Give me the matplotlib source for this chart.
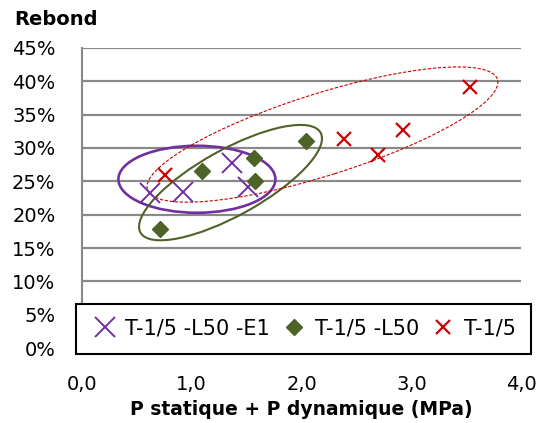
import matplotlib.pyplot as plt
from matplotlib.patches import Ellipse
from matplotlib.transforms import ScaledTranslation
from matplotlib.ticker import FuncFormatter, MultipleLocator

plt.rcParams['font.family'] = ['DejaVu Sans']

# T-1/5 -L50 -E1
x_e1 = [0.62, 0.92, 1.37, 1.51]
y_e1 = [23.2, 23.4, 27.8, 24.1]
# T-1/5 -L50
x_l50 = [0.71, 1.09, 1.57, 1.58, 2.04]
y_l50 = [17.8, 26.5, 28.5, 25.0, 31.0]
# T-1/5
x_t = [0.76, 2.39, 2.70, 2.92, 3.53]
y_t = [25.9, 31.3, 28.9, 32.7, 39.2]

labels = ['T-1/5 -L50 -E1', 'T-1/5 -L50', 'T-1/5']
purple = '#7030A0'
green = '#4F6228'
red = '#CC0000'

fig = plt.figure(figsize=(5.39, 4.23), dpi=100)
ax = fig.add_axes([0.152, 0.177, 0.815, 0.710])

ax.plot(x_e1, y_e1, ls='none', marker='x', ms=14, mew=1.4, color=purple, label=labels[0])
ax.plot(x_l50, y_l50, ls='none', marker='D', ms=8.5, color=green, label=labels[1])
ax.plot(x_t, y_t, ls='none', marker='x', ms=10, mew=1.6, color=red, label=labels[2])

# ellipses grouping the series: centre in data units, size in inches, angle on screen
def group(cx, cy, w, h, ang, **kw):
    tr = fig.dpi_scale_trans + ScaledTranslation(cx, cy, ax.transData)
    ax.add_patch(Ellipse((0, 0), w, h, angle=ang, transform=tr, fill=False, **kw))

group(1.047, 25.3, 1.57, 0.67, 0, color=purple, lw=1.9)
group(1.353, 24.8, 2.06, 0.66, 29, color=green, lw=1.5)
group(2.19, 32.0, 3.67, 0.82, 17.5, color=red, lw=0.8, ls=(0, (3, 1.5)))

ax.set_xlim(0, 4)
ax.set_ylim(0, 45)
ax.xaxis.set_major_locator(MultipleLocator(1))
ax.yaxis.set_major_locator(MultipleLocator(5))
ax.xaxis.set_major_formatter(FuncFormatter(lambda v, p: f"{v:.1f}".replace('.', ',')))
ax.yaxis.set_major_formatter(FuncFormatter(lambda v, p: f"{v:.0f}%"))
ax.tick_params(length=0, labelsize=14)
ax.tick_params(axis='x', pad=19)
ax.tick_params(axis='y', pad=19)
ax.grid(axis='y', color='#898989', lw=1.6)
ax.set_axisbelow(True)
for s in ['top', 'right', 'bottom']:
    ax.spines[s].set_visible(False)
ax.spines['left'].set_color('#898989')
ax.spines['left'].set_linewidth(1.5)

ax.set_xlabel('P statique + P dynamique (MPa)', fontsize=13.5, fontweight='bold', labelpad=5)
fig.text(0.026, 0.955, 'Rebond', fontsize=14, fontweight='bold', va='center')

leg = fig.legend(loc='center', bbox_to_anchor=(0.563, 0.223), ncol=3,
                 fontsize=15, frameon=True, fancybox=False, edgecolor='black',
                 handlelength=1.3, handletextpad=0.35, columnspacing=0.5,
                 borderpad=0.72, borderaxespad=0)
leg.get_frame().set_linewidth(1.5)
leg.get_frame().set_alpha(1)

fig.savefig('out.png', dpi=100)
